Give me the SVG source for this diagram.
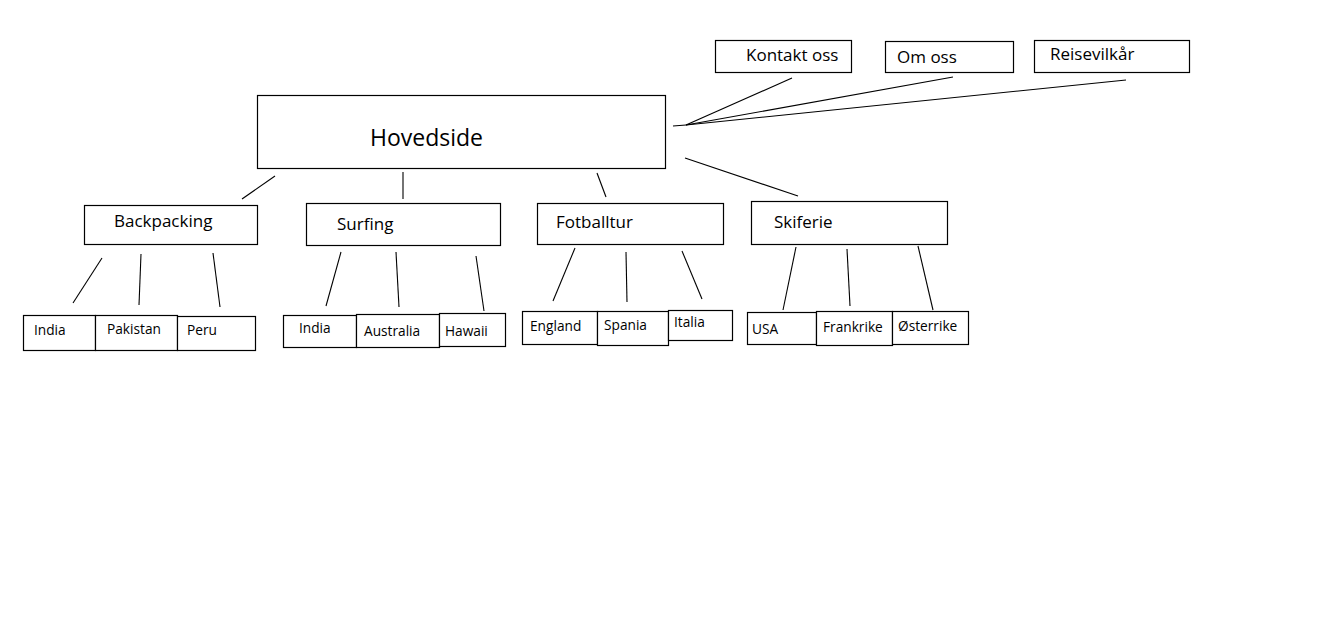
<svg xmlns="http://www.w3.org/2000/svg" width="1317" height="617" viewBox="0 0 1317 617">
<style>
rect{fill:#fff;stroke:#000;stroke-width:1.2}
line{stroke:#000;stroke-width:1.1}
text{font-family:"Open Sans","Noto Sans","DejaVu Sans",sans-serif;fill:#000}
.t{font-size:17px}
.h{font-size:23px}
.s{font-size:13.7px}
</style>
<rect x="0" y="0" width="1317" height="617" style="fill:#fff;stroke:none"/>
<g id="connectors">
<line x1="673" y1="126" x2="686" y2="125"/>
<line x1="792" y1="78" x2="686" y2="125"/>
<line x1="953" y1="77" x2="686" y2="125"/>
<line x1="1126" y1="80" x2="686" y2="125"/>
<line x1="275" y1="176" x2="242" y2="199"/>
<line x1="403" y1="172" x2="403" y2="199"/>
<line x1="597" y1="173" x2="606" y2="197"/>
<line x1="685" y1="158" x2="798" y2="196"/>
<line x1="102" y1="258" x2="73" y2="303"/>
<line x1="141" y1="254" x2="139" y2="305"/>
<line x1="213" y1="253" x2="220" y2="307"/>
<line x1="341" y1="252" x2="326" y2="306"/>
<line x1="396" y1="252" x2="399" y2="307"/>
<line x1="476" y1="256" x2="484" y2="311"/>
<line x1="575" y1="248" x2="553" y2="301"/>
<line x1="626" y1="252" x2="627" y2="302"/>
<line x1="682" y1="251" x2="702" y2="299"/>
<line x1="796" y1="247" x2="783" y2="310"/>
<line x1="847" y1="249" x2="850" y2="306"/>
<line x1="918" y1="246" x2="933" y2="310"/>
</g>
<g id="kontakt"><rect x="715.5" y="40.5" width="136" height="32"/><text class="t" x="746" y="61">Kontakt oss</text></g>
<g id="omoss"><rect x="885.5" y="41.5" width="128" height="31"/><text class="t" x="897" y="63">Om oss</text></g>
<g id="reisevilkar"><rect x="1034.5" y="40.5" width="155" height="32"/><text class="t" x="1050" y="60">Reisevilkår</text></g>
<g id="hovedside"><rect x="257.5" y="95.5" width="408" height="73"/><text class="h" x="370" y="146">Hovedside</text></g>
<g id="backpacking"><rect x="84.5" y="205.5" width="173" height="39"/><text class="t" x="114" y="227">Backpacking</text></g>
<g id="surfing"><rect x="306.5" y="203.5" width="194" height="42"/><text class="t" x="337" y="230">Surfing</text></g>
<g id="fotballtur"><rect x="537.5" y="203.5" width="186" height="41"/><text class="t" x="556" y="228">Fotballtur</text></g>
<g id="skiferie"><rect x="751.5" y="201.5" width="196" height="43"/><text class="t" x="774" y="228">Skiferie</text></g>
<g id="india1"><rect x="23.5" y="315.5" width="72" height="35"/><text class="s" x="34" y="335">India</text></g>
<g id="pakistan"><rect x="95.5" y="315.5" width="82" height="35"/><text class="s" x="107" y="334">Pakistan</text></g>
<g id="peru"><rect x="177.5" y="316.5" width="78" height="34"/><text class="s" x="187" y="335">Peru</text></g>
<g id="india2"><rect x="283.5" y="315.5" width="73" height="32"/><text class="s" x="299" y="333">India</text></g>
<g id="australia"><rect x="356.5" y="314.5" width="83" height="33"/><text class="s" x="364" y="336">Australia</text></g>
<g id="hawaii"><rect x="439.5" y="313.5" width="66" height="33"/><text class="s" x="445" y="336">Hawaii</text></g>
<g id="england"><rect x="522.5" y="311.5" width="75" height="33"/><text class="s" x="530" y="331">England</text></g>
<g id="spania"><rect x="597.5" y="311.5" width="71" height="34"/><text class="s" x="604" y="330">Spania</text></g>
<g id="italia"><rect x="668.5" y="310.5" width="64" height="30"/><text class="s" x="674" y="327">Italia</text></g>
<g id="usa"><rect x="747.5" y="312.5" width="69" height="32"/><text class="s" x="752" y="334">USA</text></g>
<g id="frankrike"><rect x="816.5" y="311.5" width="76" height="34"/><text class="s" x="823" y="332">Frankrike</text></g>
<g id="osterrike"><rect x="892.5" y="311.5" width="76" height="33"/><text class="s" x="898" y="331">Østerrike</text></g>
</svg>
